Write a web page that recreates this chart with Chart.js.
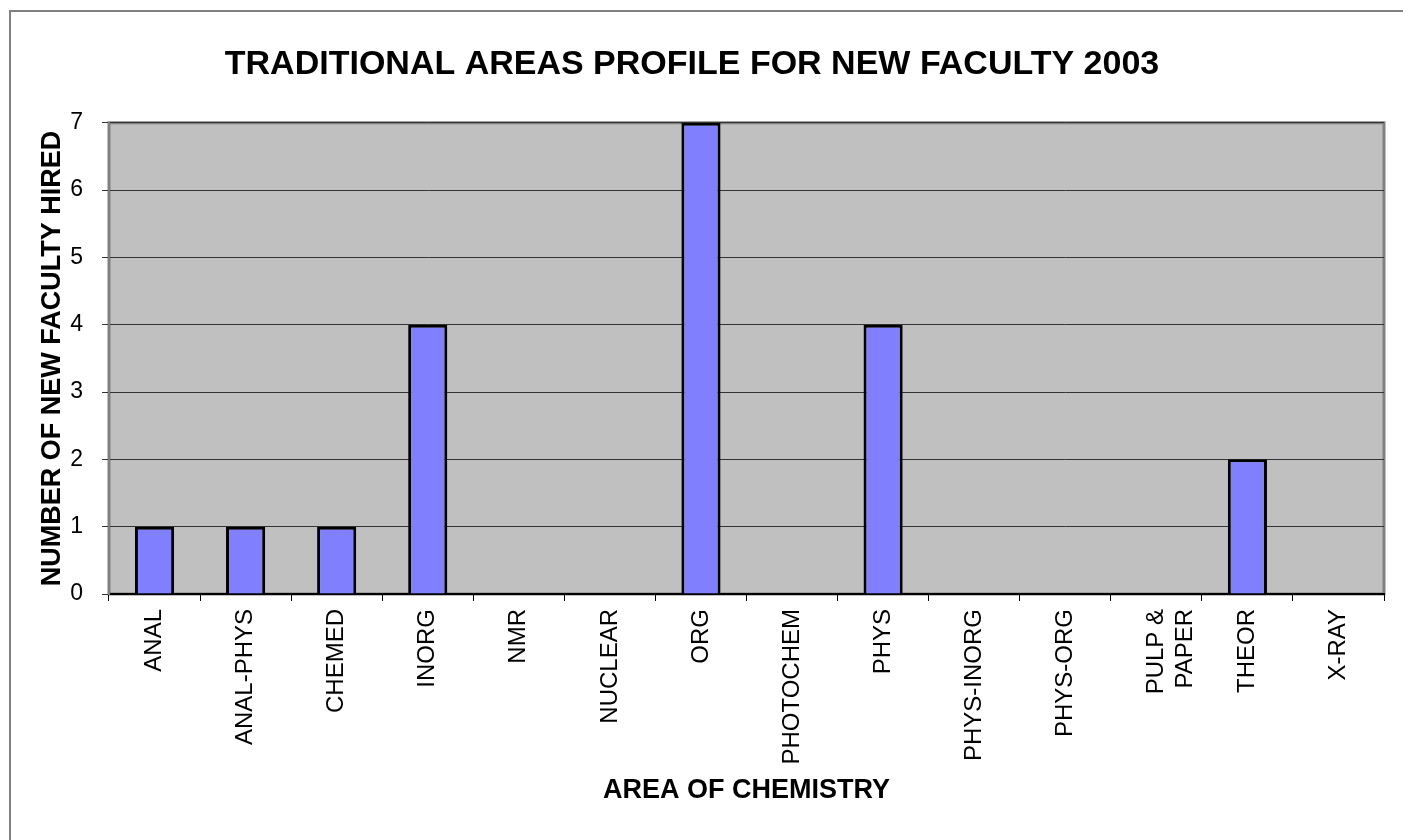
<!DOCTYPE html>
<html>
<head>
<meta charset="utf-8">
<script src="https://cdn.jsdelivr.net/npm/chart.js@4.4.1/dist/chart.umd.min.js"></script>
<style>
  html, body { margin: 0; padding: 0; background: #fff; }
  #wrap { width: 1403px; height: 840px; position: relative; }
</style>
</head>
<body>
<div id="wrap"><canvas id="areaChart"></canvas></div>
<script>
// Data
const areas = ['ANAL', 'ANAL-PHYS', 'CHEMED', 'INORG', 'NMR', 'NUCLEAR', 'ORG',
    'PHOTOCHEM', 'PHYS', 'PHYS-INORG', 'PHYS-ORG', ['PULP &', 'PAPER'], 'THEOR', 'X-RAY'];
const hired = [1, 1, 1, 4, 0, 0, 7, 0, 4, 0, 0, 0, 2, 0];
const yTicks = [0, 1, 2, 3, 4, 5, 6, 7];

const FONT = '"Liberation Sans", Arial, sans-serif';

// gray plot area + outer frame lines
const plotBackground = {
    id: 'plotBackground',
    beforeDraw(chart) {
        const ctx = chart.ctx;
        const a = chart.chartArea;
        ctx.save();
        ctx.strokeStyle = '#808080';
        ctx.lineWidth = 2;
        ctx.beginPath();
        ctx.moveTo(10, chart.height);
        ctx.lineTo(10, 11);
        ctx.lineTo(chart.width, 11);
        ctx.stroke();

        ctx.fillStyle = '#C0C0C0';
        ctx.fillRect(a.left, a.top, a.right - a.left, a.bottom - a.top);
        ctx.lineWidth = 3;
        ctx.strokeRect(a.left, a.top, a.right - a.left, a.bottom - a.top);
        ctx.restore();
    }
};

document.addEventListener('DOMContentLoaded', function() {
    const ctx = document.getElementById('areaChart').getContext('2d');
    new Chart(ctx, {
        type: 'bar',
        data: {
            labels: areas,
            datasets: [{
                data: hired,
                backgroundColor: '#8080FF',
                borderColor: '#000000',
                borderWidth: 3,
                barPercentage: 0.43,
                categoryPercentage: 1.0
            }]
        },
        options: {
            responsive: true,
            maintainAspectRatio: false,
            animation: false,
            layout: { padding: { left: 0, right: 19, top: 0, bottom: 0 } },
            plugins: {
                legend: { display: false },
                tooltip: { enabled: false },
                title: {
                    display: true,
                    text: 'TRADITIONAL AREAS PROFILE FOR NEW FACULTY 2003',
                    color: '#000',
                    font: { family: FONT, size: 34, weight: 'bold' },
                    padding: { top: 44, bottom: 38 }
                }
            },
            scales: {
                x: {
                    offset: true,
                    grid: {
                        offset: true,
                        drawOnChartArea: false,
                        drawTicks: true,
                        tickLength: 7,
                        color: '#000'
                    },
                    border: { color: '#000', width: 2 },
                    ticks: {
                        color: '#000',
                        font: { family: FONT, size: 24 },
                        maxRotation: 90,
                        minRotation: 90,
                        autoSkip: false,
                        padding: 8
                    },
                    title: {
                        display: true,
                        text: 'AREA OF CHEMISTRY',
                        color: '#000',
                        font: { family: FONT, size: 27, weight: 'bold' },
                        padding: { top: 0, bottom: 33 }
                    },
                    afterFit: function(scale) { scale.height = 246; }
                },
                y: {
                    min: 0,
                    max: 7,
                    afterBuildTicks: function(scale) {
                        scale.ticks = yTicks.map(v => ({ value: v }));
                    },
                    grid: {
                        color: '#333',
                        lineWidth: 1,
                        tickLength: 7
                    },
                    border: { color: '#808080', width: 2 },
                    ticks: {
                        color: '#000',
                        font: { family: FONT, size: 23 },
                        padding: 19
                    },
                    title: {
                        display: true,
                        text: 'NUMBER OF NEW FACULTY HIRED',
                        color: '#000',
                        font: { family: FONT, size: 27, weight: 'bold' },
                        padding: { top: 36, bottom: 0 }
                    },
                    afterFit: function(scale) { scale.width = 109; }
                }
            }
        },
        plugins: [plotBackground]
    });
});
</script>
</body>
</html>
